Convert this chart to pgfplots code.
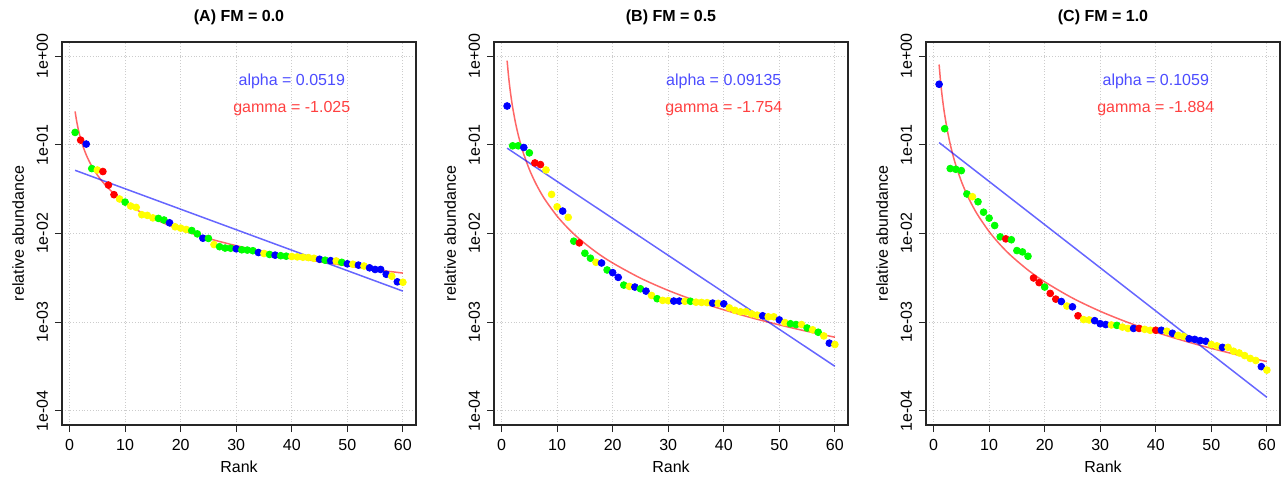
\documentclass[border=0pt]{standalone}
\usepackage{fontspec}
\setmainfont{Liberation Sans}
\usepackage{pgfplots}
\usepackage{pgfplotstable}
\pgfplotsset{compat=1.18}

\definecolor{Rgreen}{HTML}{00FF00}
\definecolor{Ryellow}{HTML}{FFFF00}
\definecolor{Rred}{HTML}{FF0000}
\definecolor{Rblue}{HTML}{0000FF}

% observed abundances, rank / value / colour class
\pgfplotstableread{
r v c
1 0.138 g
2 0.113 r
3 0.102 b
4 0.054 g
5 0.052 y
6 0.050 r
7 0.0352 r
8 0.0274 r
9 0.0245 y
10 0.0226 g
11 0.0204 y
12 0.0197 y
13 0.0163 y
14 0.0160 y
15 0.0150 y
16 0.0148 g
17 0.0142 g
18 0.0132 b
19 0.0119 y
20 0.0115 y
21 0.0111 y
22 0.0108 g
23 0.0099 g
24 0.00885 b
25 0.00880 g
26 0.00750 y
27 0.00710 g
28 0.00685 g
29 0.00682 g
30 0.00672 b
31 0.00655 g
32 0.00650 g
33 0.00640 g
34 0.00610 b
35 0.00595 y
36 0.00580 g
37 0.00570 b
38 0.00562 g
39 0.00555 g
40 0.00550 y
41 0.00545 y
42 0.00540 y
43 0.00535 y
44 0.00525 y
45 0.00512 b
46 0.00500 g
47 0.00494 b
48 0.00490 y
49 0.00473 g
50 0.00455 b
51 0.00450 y
52 0.00440 b
53 0.00430 y
54 0.00410 b
55 0.00393 b
56 0.00393 b
57 0.00347 b
58 0.00330 y
59 0.00285 b
60 0.00282 y
}\dataA

\pgfplotstableread{
r v c
1 0.274 b
2 0.0975 g
3 0.0975 g
4 0.0933 b
5 0.0812 g
6 0.0625 r
7 0.0599 r
8 0.0521 y
9 0.0276 y
10 0.0200 y
11 0.0179 b
12 0.0152 y
13 0.00819 g
14 0.00784 r
15 0.00599 g
16 0.00526 g
17 0.00473 y
18 0.00465 b
19 0.00388 g
20 0.00362 b
21 0.00320 b
22 0.00262 g
23 0.00253 y
24 0.00249 b
25 0.00238 g
26 0.00224 b
27 0.00200 y
28 0.00184 g
29 0.00176 y
30 0.00175 y
31 0.00173 b
32 0.00173 b
33 0.00172 y
34 0.00172 g
35 0.00168 y
36 0.00167 y
37 0.00166 y
38 0.00164 b
39 0.00163 y
40 0.00161 b
41 0.00145 y
42 0.00136 y
43 0.00131 y
44 0.00131 y
45 0.00124 y
46 0.00120 y
47 0.00118 b
48 0.00115 y
49 0.00115 y
50 0.00106 b
51 0.00099 y
52 0.00096 g
53 0.00094 g
54 0.00094 y
55 0.00086 g
56 0.00082 y
57 0.00077 g
58 0.00070 y
59 0.00058 b
60 0.00056 y
}\dataB

\pgfplotstableread{
r v c
1 0.482 b
2 0.152 g
3 0.0540 g
4 0.0530 g
5 0.0512 g
6 0.0279 g
7 0.0260 y
8 0.0228 g
9 0.0174 g
10 0.0149 g
11 0.0123 g
12 0.00917 g
13 0.00870 r
14 0.00850 g
15 0.00642 g
16 0.00620 g
17 0.00554 g
18 0.00315 r
19 0.00279 r
20 0.00249 g
21 0.00211 r
22 0.00182 r
23 0.00171 b
24 0.00152 y
25 0.00149 b
26 0.00118 r
27 0.00107 y
28 0.00106 y
29 0.00104 b
30 0.00096 b
31 0.00094 b
32 0.00093 y
33 0.00092 g
34 0.00088 y
35 0.00085 y
36 0.00085 b
37 0.00085 r
38 0.00083 y
39 0.00081 y
40 0.00081 r
41 0.00081 b
42 0.00079 y
43 0.00075 b
44 0.00071 y
45 0.00069 y
46 0.00065 b
47 0.00064 b
48 0.00062 b
49 0.00061 b
50 0.00056 y
51 0.00054 y
52 0.00052 b
53 0.00052 y
54 0.00047 y
55 0.00045 y
56 0.00042 y
57 0.00039 y
58 0.00037 y
59 0.000315 b
60 0.000288 y
}\dataC

% fitted power-law curves
\pgfplotstableread{
r v
1 0.238
1.25 0.1894
1.5 0.1571
1.75 0.1341
2 0.1170
2.5 0.0931
3 0.0772
3.5 0.0659
4 0.0575
5 0.0457
6 0.0379
7 0.0324
8 0.0282
10 0.02247
12 0.01864
14 0.01592
17 0.01305
20 0.01104
25 0.00879
30 0.00729
35 0.00622
40 0.00542
45 0.00481
50 0.00432
55 0.00391
60 0.00358
}\curveA

\pgfplotstableread{
r v
1 0.890
1.25 0.6017
1.5 0.4370
1.75 0.3336
2 0.2638
2.5 0.1784
3 0.1296
3.5 0.0989
4 0.0782
5 0.0529
6 0.0384
7 0.0293
8 0.0232
10 0.01568
12 0.01139
14 0.00869
17 0.00618
20 0.00465
25 0.00314
30 0.00228
35 0.00174
40 0.001378
45 0.001121
50 0.000932
55 0.000788
60 0.000677
}\curveB

\pgfplotstableread{
r v
1 0.805
1.25 0.5287
1.5 0.3750
1.75 0.2805
2 0.2182
2.5 0.1433
3 0.1016
3.5 0.0760
4 0.0591
5 0.0388
6 0.02753
7 0.02059
8 0.01601
10 0.01051
12 0.00746
14 0.00558
17 0.00387
20 0.00285
25 0.001872
30 0.001327
35 0.000992
40 0.000772
45 0.000618
50 0.000507
55 0.000423
60 0.000359
}\curveC

\pgfplotsset{
  rpanel/.style={
    scale only axis, width=177pt, height=191.5pt,
    anchor=south west,
    xmin=-1.36, xmax=62.36, ymin=6.92e-5, ymax=1.445,
    xtick={0,10,...,60},
    ytick={1e-4,1e-3,1e-2,1e-1,1},
    yticklabels={1e-04,1e-03,1e-02,1e-01,1e+00},
    yminorticks=false,
    tick align=outside, xtick pos=bottom, ytick pos=left,
    major tick length=3.5pt,
    grid=major,
    grid style={densely dotted, black!20, line width=0.4pt},
    axis line style={line width=0.8pt, black!85},
    every tick/.style={black!85, line width=0.5pt},
    /pgf/number format/assume math mode=true,
    ticklabel style={font=\fontsize{8}{9.6}\selectfont},
    yticklabel style={rotate=90, anchor=south},
    xlabel={Rank}, ylabel={relative abundance},
    label style={font=\fontsize{8}{9.6}\selectfont},
    xlabel style={at={(axis description cs:0.5,-0.11)}, anchor=center},
    ylabel style={at={(axis description cs:-0.124,0.5)}, anchor=center},
    title style={font=\fontsize{8}{9.6}\selectfont\bfseries, at={(axis description cs:0.5,1)}, anchor=base, yshift=4pt},
  },
  rpoints/.style={
    scatter, only marks, mark=*, mark size=1.7pt,
    scatter src=explicit symbolic,
    scatter/classes={
      g={mark=*, draw=Rgreen, fill=Rgreen},
      y={mark=*, draw=Ryellow, fill=Ryellow},
      r={mark=*, draw=Rred, fill=Rred},
      b={mark=*, draw=Rblue, fill=Rblue}},
  },
  rcurve/.style={no marks, smooth, Rred, draw opacity=0.6, line width=0.75pt},
  rline/.style={no marks, Rblue, draw opacity=0.6, line width=0.75pt},
}
\tikzset{
  alphatxt/.style={anchor=base, text=Rblue!70!white, font=\fontsize{8}{9.6}\selectfont},
  gammatxt/.style={anchor=base, text=Rred!75!white, font=\fontsize{8}{9.6}\selectfont},
}

\begin{document}
\begin{tikzpicture}
\path[use as bounding box] (0,0) rectangle (643pt,239.5pt);

\begin{axis}[ymode=log, rpanel, at={(31pt,27pt)}, title={(A) FM = 0.0}]
\addplot[rpoints] table[x=r, y=v, meta=c] {\dataA};
\addplot[rcurve] table[x=r, y=v] {\curveA};
\addplot[rline] coordinates {(1,0.0516) (60,0.00224)};
\node[alphatxt] at (axis cs:40,0.461) {alpha = 0.0519};
\node[gammatxt] at (axis cs:40,0.230) {gamma = -1.025};
\end{axis}

\begin{axis}[ymode=log, rpanel, at={(247pt,27pt)}, title={(B) FM = 0.5}]
\addplot[rpoints] table[x=r, y=v, meta=c] {\dataB};
\addplot[rcurve] table[x=r, y=v] {\curveB};
\addplot[rline] coordinates {(1,0.0917) (60,0.000318)};
\node[alphatxt] at (axis cs:40,0.461) {alpha = 0.09135};
\node[gammatxt] at (axis cs:40,0.230) {gamma = -1.754};
\end{axis}

\begin{axis}[ymode=log, rpanel, at={(463pt,27pt)}, title={(C) FM = 1.0}]
\addplot[rpoints] table[x=r, y=v, meta=c] {\dataC};
\addplot[rcurve] table[x=r, y=v] {\curveC};
\addplot[rline] coordinates {(1,0.106) (60,0.000142)};
\node[alphatxt] at (axis cs:40,0.461) {alpha = 0.1059};
\node[gammatxt] at (axis cs:40,0.230) {gamma = -1.884};
\end{axis}
\end{tikzpicture}
\end{document}
